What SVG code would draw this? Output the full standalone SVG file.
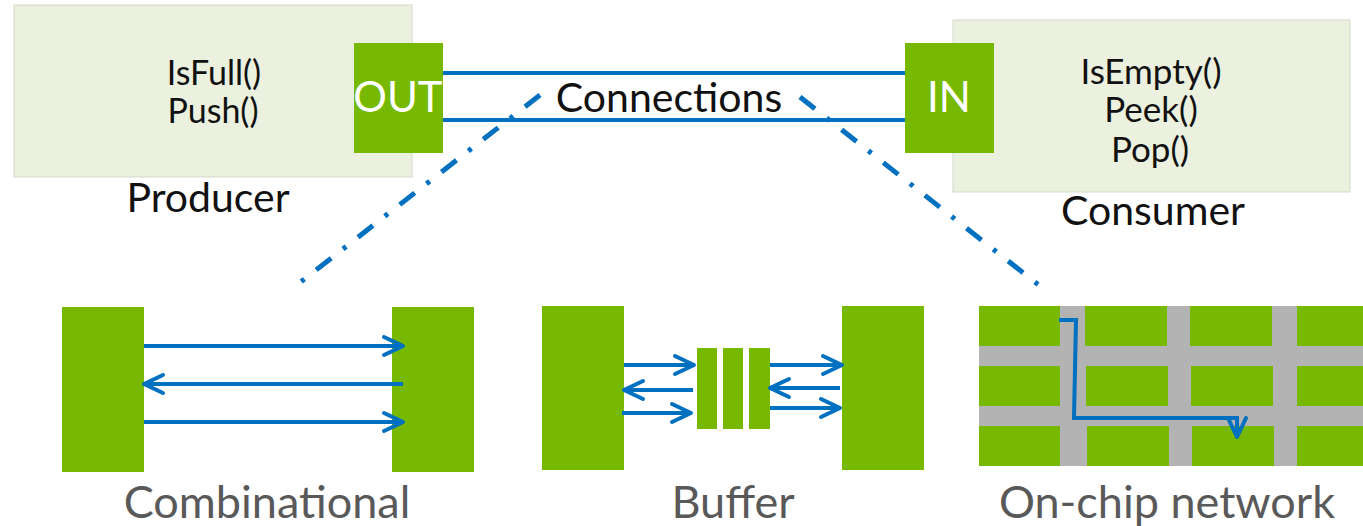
<svg xmlns="http://www.w3.org/2000/svg" width="1363" height="526" viewBox="0 0 1363 526">
  <style>
    .panel { fill: #ebf1de; stroke: #d4d8cc; stroke-width: 1; }
    .port { fill: #76b900; }
    .block { fill: #76b900; }
    .grid { fill: #b3b3b3; }
    .wire { stroke: #0070c0; stroke-width: 4; fill: none; }
    .arrow { stroke: #0070c0; stroke-width: 4; fill: none; marker-end: url(#chev); }
    .zoomline { stroke: #0070c0; stroke-width: 5; fill: none; stroke-dasharray: 19 15 4 15; }
    .t { font-family: "Lato", "Open Sans", sans-serif; fill: #111111; text-anchor: middle; }
    .portlabel { font-family: "Lato", "Open Sans", sans-serif; fill: #ffffff; text-anchor: middle; font-size: 42px; }
    .caption { font-family: "Lato", "Open Sans", sans-serif; fill: #595959; text-anchor: middle; font-size: 45px; }
  </style>
  <defs>
    <marker id="chev" viewBox="-24 -12 28 24" refX="0" refY="0" markerUnits="userSpaceOnUse" markerWidth="28" markerHeight="24" orient="auto">
      <path d="M-19,-9 L0,0 L-19,9" fill="none" stroke="#0070c0" stroke-width="4" stroke-linejoin="round" stroke-linecap="round"/>
    </marker>
  </defs>

  <!-- dash-dot zoom lines from the connection down to the three variants -->
  <g id="zoom-lines">
    <line class="zoomline" x1="540" y1="95" x2="293" y2="288"/>
    <line class="zoomline" x1="800" y1="97" x2="1045" y2="290"/>
  </g>

  <!-- producer -->
  <g id="producer">
    <rect class="panel" x="14" y="5" width="398" height="172"/>
    <text class="t" x="214" y="85" font-size="34">IsFull()</text>
    <text class="t" x="213" y="123" font-size="34">Push()</text>
    <text class="t" x="208" y="212" font-size="41">Producer</text>
  </g>
  <g id="out-port">
    <rect class="port" x="354" y="43" width="89" height="110"/>
    <text class="portlabel" x="398" y="112">OUT</text>
  </g>

  <!-- consumer -->
  <g id="consumer">
    <rect class="panel" x="953" y="20" width="397" height="172"/>
    <text class="t" x="1151" y="84" font-size="35">IsEmpty()</text>
    <text class="t" x="1151" y="122" font-size="35">Peek()</text>
    <text class="t" x="1150" y="162" font-size="35">Pop()</text>
    <text class="t" x="1153" y="225" font-size="41">Consumer</text>
  </g>
  <g id="in-port">
    <rect class="port" x="905" y="43" width="89" height="110"/>
    <text class="portlabel" x="949" y="112">IN</text>
  </g>

  <!-- producer to consumer connection -->
  <g id="connections">
    <line class="wire" x1="443" y1="73" x2="905" y2="73"/>
    <line class="wire" x1="443" y1="120" x2="905" y2="120"/>
    <text class="t" x="669" y="112" font-size="41">Connections</text>
  </g>

  <!-- combinational variant -->
  <g id="combinational">
    <rect class="block" x="62" y="307" width="82" height="165"/>
    <rect class="block" x="392" y="307" width="82" height="165"/>
    <line class="arrow" x1="144" y1="346" x2="403" y2="346"/>
    <line class="arrow" x1="403" y1="384" x2="144" y2="384"/>
    <line class="arrow" x1="144" y1="422" x2="403" y2="422"/>
    <text class="caption" x="267" y="518">Combinational</text>
  </g>

  <!-- buffered variant -->
  <g id="buffer">
    <rect class="block" x="542" y="306" width="82" height="164"/>
    <rect class="block" x="842" y="306" width="82" height="164"/>
    <rect class="block" x="697" y="348" width="20" height="81"/>
    <rect class="block" x="723" y="348" width="20" height="81"/>
    <rect class="block" x="749" y="348" width="21" height="81"/>
    <line class="arrow" x1="624" y1="365" x2="694" y2="365"/>
    <line class="arrow" x1="693" y1="390" x2="624" y2="390"/>
    <line class="arrow" x1="622" y1="413" x2="691" y2="413"/>
    <line class="arrow" x1="770" y1="365" x2="842" y2="365"/>
    <line class="arrow" x1="840" y1="388" x2="770" y2="388"/>
    <line class="arrow" x1="770" y1="408" x2="840" y2="408"/>
    <text class="caption" x="733" y="518">Buffer</text>
  </g>

  <!-- on-chip network variant -->
  <g id="network">
    <rect class="grid" x="979" y="306" width="384" height="160"/>
    <rect class="block" x="979" y="306" width="81" height="40"/>
    <rect class="block" x="1085" y="306" width="82" height="40"/>
    <rect class="block" x="1190" y="306" width="82" height="40"/>
    <rect class="block" x="1297" y="306" width="66" height="40"/>
    <rect class="block" x="979" y="366" width="81" height="40"/>
    <rect class="block" x="1086" y="366" width="82" height="40"/>
    <rect class="block" x="1191" y="366" width="82" height="40"/>
    <rect class="block" x="1297" y="366" width="66" height="40"/>
    <rect class="block" x="979" y="426" width="81" height="40"/>
    <rect class="block" x="1087" y="426" width="82" height="40"/>
    <rect class="block" x="1192" y="426" width="82" height="40"/>
    <rect class="block" x="1297" y="426" width="66" height="40"/>
    <path class="arrow" d="M1059,320 H1076 L1074,418 H1237 V437"/>
    <text class="caption" x="1167" y="518">On-chip network</text>
  </g>
</svg>
